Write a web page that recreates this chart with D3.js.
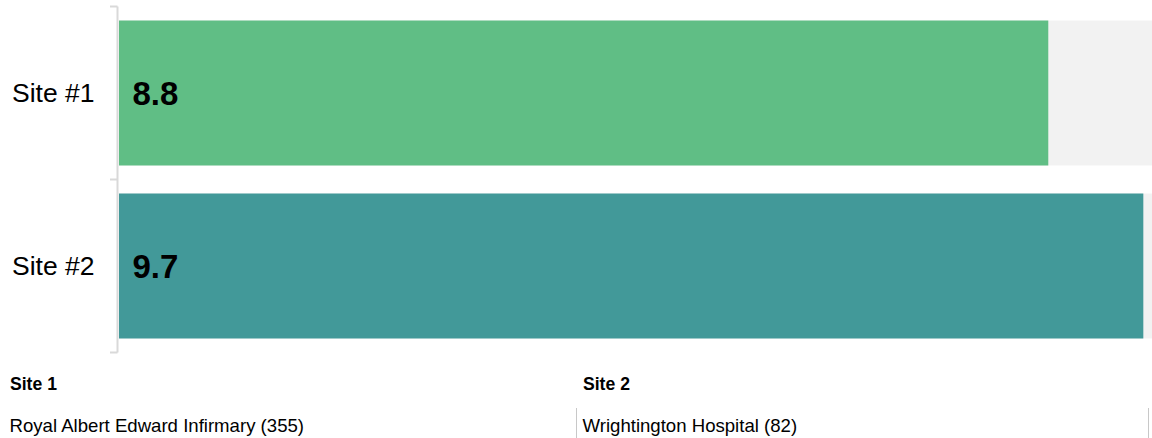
<!DOCTYPE html>
<html>
<head>
<meta charset="utf-8">
<script src="https://cdn.jsdelivr.net/npm/d3@7"></script>
<style>
  html, body { margin: 0; padding: 0; background: #fff; overflow: hidden; }
  svg { display: block; font-family: "Liberation Sans", Arial, sans-serif; }
</style>
</head>
<body>
<svg id="chart" width="1152" height="438"></svg>
<script>
// ---- data ----
const categories = ["Site #1", "Site #2"];
const values = [8.8, 9.7];
const maxValue = 10;
const barColors = ["#60be85", "#429999"];
const footerTitles = ["Site 1", "Site 2"];
const footerNames = ["Royal Albert Edward Infirmary (355)", "Wrightington Hospital (82)"];

// ---- layout ----
const svg = d3.select("#chart");
const axisX = 117.5;

const y = d3.scaleBand()
  .domain(categories)
  .range([6.5, 352.5])
  .paddingInner(0.162)
  .paddingOuter(0.081);

const x = d3.scaleLinear()
  .domain([0, maxValue])
  .range([119, 1175]);

const data = categories.map((c, i) => ({ cat: c, value: values[i], color: barColors[i] }));

// background tracks
svg.append("g").selectAll("rect")
  .data(data)
  .join("rect")
  .attr("x", x(0))
  .attr("y", d => y(d.cat))
  .attr("width", x(maxValue) - x(0))
  .attr("height", y.bandwidth())
  .attr("fill", "#f2f2f2");

// bars
svg.append("g").selectAll("rect")
  .data(data)
  .join("rect")
  .attr("x", x(0))
  .attr("y", d => y(d.cat))
  .attr("width", d => x(d.value) - x(0))
  .attr("height", y.bandwidth())
  .attr("fill", d => d.color);

// value labels
svg.append("g").selectAll("text")
  .data(data)
  .join("text")
  .attr("x", x(0) + 13.5)
  .attr("y", d => y(d.cat) + y.bandwidth() / 2 + 11.8)
  .attr("font-size", 33)
  .attr("font-weight", "bold")
  .attr("fill", "#000")
  .text(d => d.value.toFixed(1));

// axis (ticks at band boundaries)
const step = y.step();
const r = y.range();
const boundaries = d3.range(categories.length + 1).map(i => r[0] + i * step);
const axis = svg.append("g");
axis.append("line")
  .attr("x1", axisX).attr("x2", axisX)
  .attr("y1", r[0]).attr("y2", r[1])
  .attr("stroke", "#d9d9d9").attr("stroke-width", 2);
axis.selectAll("line.tick")
  .data(boundaries)
  .join("line")
  .attr("class", "tick")
  .attr("x1", 110).attr("x2", axisX)
  .attr("y1", d => d).attr("y2", d => d)
  .attr("stroke", "#d9d9d9").attr("stroke-width", 2);
axis.selectAll("text")
  .data(categories)
  .join("text")
  .attr("x", 94.5)
  .attr("y", d => y(d) + y.bandwidth() / 2 + 9.4)
  .attr("text-anchor", "end")
  .attr("font-size", 26.5)
  .attr("fill", "#000")
  .text(d => d);

// footer
const colStart = [0, 576];
const colEnd = [576, 1148];
const footer = svg.append("g");
footerTitles.forEach((t, i) => {
  const x0 = i === 0 ? 10 : colStart[i] + 7;
  footer.append("text")
    .attr("x", x0).attr("y", 390)
    .attr("font-size", 17.6).attr("font-weight", "bold").attr("fill", "#000")
    .text(t);
  footer.append("text")
    .attr("x", x0 - 0.5).attr("y", 432)
    .attr("font-size", 18.6).attr("fill", "#000")
    .text(footerNames[i]);
  footer.append("line")
    .attr("x1", colEnd[i] + 0.5).attr("x2", colEnd[i] + 0.5)
    .attr("y1", 408).attr("y2", 438)
    .attr("stroke", "#c8c8c8").attr("stroke-width", 1);
});
</script>
</body>
</html>
